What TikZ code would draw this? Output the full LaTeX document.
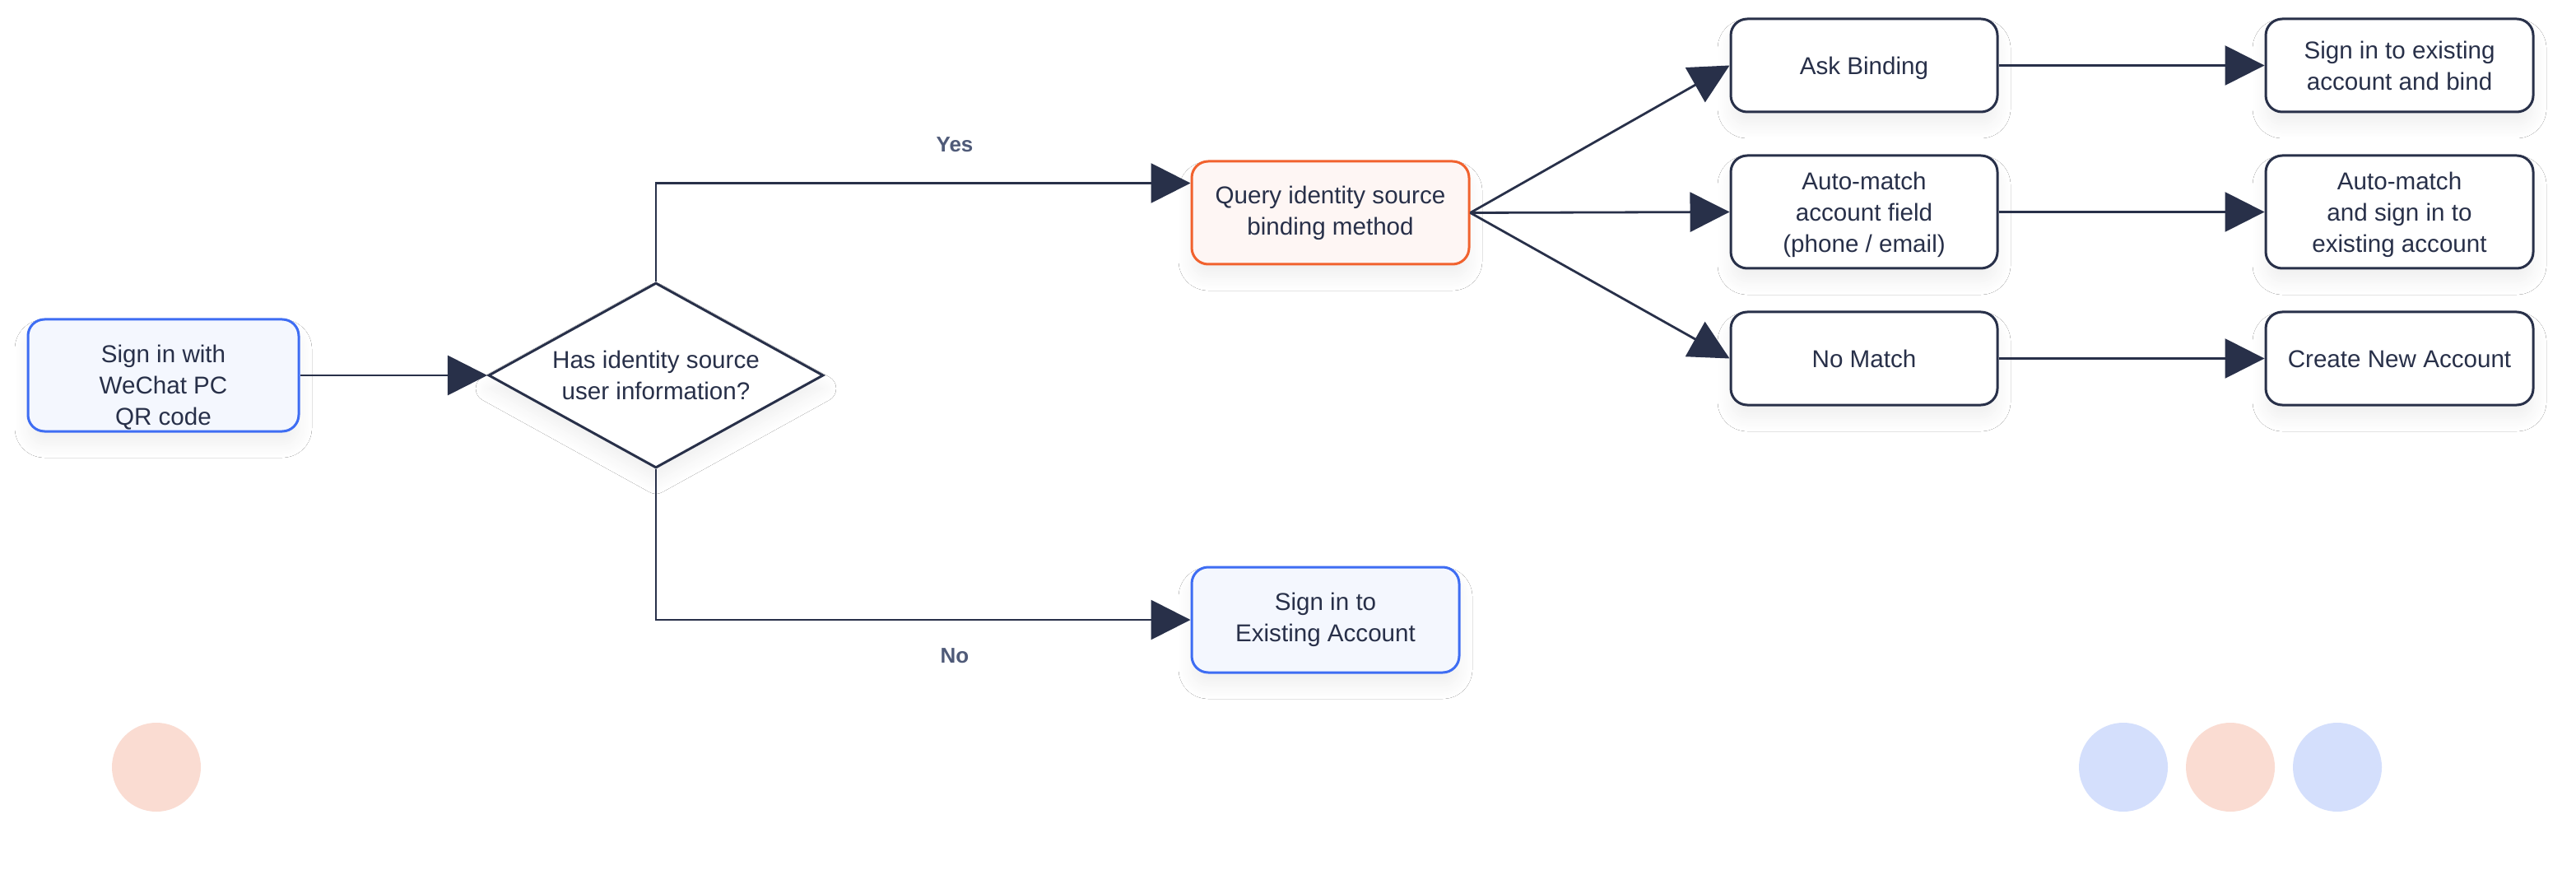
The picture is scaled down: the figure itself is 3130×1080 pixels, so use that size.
\documentclass[tikz,border=0pt]{standalone}
\usepackage{fontspec}
\setmainfont{Liberation Sans}
\usetikzlibrary{arrows.meta,shapes.geometric,shadows.blur}
\definecolor{ink}{HTML}{283049}
\definecolor{lbl}{HTML}{4F5A78}
\definecolor{bluebd}{HTML}{3E6DF3}
\definecolor{bluefill}{HTML}{F4F7FE}
\definecolor{orbd}{HTML}{F1622E}
\definecolor{orfill}{HTML}{FEF6F4}
\definecolor{dotblue}{HTML}{D4DFFC}
\definecolor{dotsal}{HTML}{FADCD2}
\begin{document}
\begin{tikzpicture}[x=0.5pt,y=-0.5pt,
  shadowed/.style={blur shadow={shadow xshift=0pt,shadow yshift=-8pt,shadow blur radius=8pt,shadow opacity=6,shadow blur steps=16}},
  txt/.style={text=ink,font=\fontsize{14.8}{19}\selectfont,align=center},
  box/.style={txt,draw=ink,line width=1.5pt,rounded corners=10pt,fill=white,inner sep=0pt,shadowed},
  oneline/.style={text height=11pt,text depth=0.4pt},
  bluebox/.style={box,draw=bluebd,fill=bluefill},
  orbox/.style={box,draw=orbd,fill=orfill},
  decide/.style={txt,diamond,draw=ink,line width=1.5pt,fill=white,inner sep=0pt,
    shape aspect=1.8,minimum width=203.5pt,minimum height=112.5pt,shadowed},
  conn/.style={draw=ink,line width=1.4pt,-{Triangle[length=24pt,width=24pt]}},
  yn/.style={text=lbl,font=\fontsize{13}{15}\selectfont\bfseries},
  dot/.style={circle,minimum size=54pt,inner sep=0pt,draw=none}
]
\fill[white] (0,0) rectangle (3130,1080);
\useasboundingbox (0,0) rectangle (3130,1080);

% nodes
\node[bluebox,minimum width=164.5pt,minimum height=68pt] (start) at (198.5,456) {\rule{0pt}{25.6pt}Sign in with\\WeChat PC\\QR code};
\node[decide] (dia) at (797,456) {Has identity source\\user information?};
\node[orbox,minimum width=168.5pt,minimum height=62.5pt] (query) at (1616.5,258.5) {Query identity source\\binding method};
\node[bluebox,minimum width=162.5pt,minimum height=64pt] (exist) at (1610.5,753) {Sign in to\\Existing Account};

\node[box,oneline,minimum width=162pt,minimum height=56.5pt] (ask) at (2265,79.5) {Ask Binding};
\node[box,minimum width=162pt,minimum height=68.5pt] (auto) at (2265,257.5) {\rule{0pt}{13.6pt}Auto-match\\account field\\(phone / email)};
\node[box,oneline,minimum width=162pt,minimum height=56.5pt] (nomatch) at (2265,435.5) {No Match};

\node[box,minimum width=162.5pt,minimum height=56.5pt] (bind) at (2915.5,79.5) {Sign in to existing\\account and bind};
\node[box,minimum width=162.5pt,minimum height=68.5pt] (autosign) at (2915.5,257.5) {\rule{0pt}{13.6pt}Auto-match\\and sign in to\\existing account};
\node[box,oneline,minimum width=162.5pt,minimum height=56.5pt] (create) at (2915.5,435.5) {Create New Account};

% labels
\node[yn] (yes) at (1160,176) {Yes};
\node[yn] (no) at (1160,797) {No};

% decorative dots
\node[dot,fill=dotsal] (d1) at (190,932) {};
\node[dot,fill=dotblue] (d2) at (2580,932) {};
\node[dot,fill=dotsal] (d3) at (2710,932) {};
\node[dot,fill=dotblue] (d4) at (2840,932) {};

% connectors
\draw[conn] (start) -- (dia);
\draw[conn] (dia.north) |- ([yshift=18pt]query.west);
\draw[conn] (dia.south) |- (exist.west);
\draw[conn] (query.east) -- (ask.west);
\draw[conn] (query.east) -- (auto.west);
\draw[conn] (query.east) -- (nomatch.west);
\draw[conn] (ask) -- (bind);
\draw[conn] (auto) -- (autosign);
\draw[conn] (nomatch) -- (create);
\end{tikzpicture}
\end{document}
